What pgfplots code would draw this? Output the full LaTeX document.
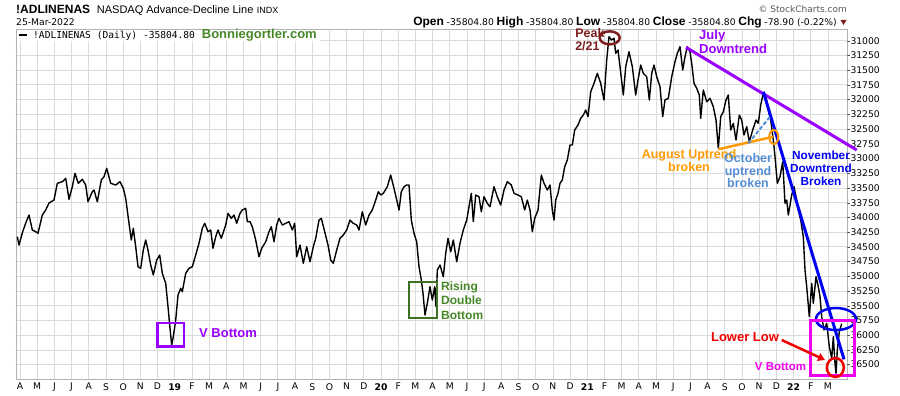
\documentclass[border=0pt]{standalone}
\usepackage{pgfplots}
\pgfplotsset{compat=1.18}
\usepackage{fontspec}
\setmainfont{Liberation Sans}
\newfontfamily\dv{DejaVu Sans}
\newfontfamily\dvm{DejaVu Sans Mono}
\usetikzlibrary{arrows.meta}
\definecolor{vio}{RGB}{153,0,255}
\definecolor{mrn}{RGB}{125,30,30}
\definecolor{grn}{RGB}{70,135,40}
\definecolor{orng}{RGB}{255,153,0}
\definecolor{cflower}{RGB}{85,142,213}
\definecolor{nblue}{RGB}{0,0,240}
\definecolor{mag}{RGB}{240,0,240}
\definecolor{rd}{RGB}{240,0,0}
\begin{document}
\begin{tikzpicture}
\useasboundingbox (0pt,0pt) rectangle (900pt,-396pt);
\begin{axis}[
  at={(16pt,-379pt)}, anchor=south west,
  scale only axis, width=831pt, height=350pt,
  xmin=2.767, xmax=51.109, ymin=-36744, ymax=-30801,
  clip=false,
  axis line style={draw=black!30},
  xtick={3,...,50},
  xticklabels={A,M,J,J,A,S,O,N,D,\textbf{19},F,M,A,M,J,J,A,S,O,N,D,\textbf{20},F,M,A,M,J,J,A,S,O,N,D,\textbf{21},F,M,A,M,J,J,A,S,O,N,D,\textbf{22},F,M},
  ytick={-36500,-36250,...,-31000},
  scaled y ticks=false,
  yticklabel pos=right,
  major tick length=0pt,
  grid=major,
  grid style={draw=black!14, line width=0.8pt},
  xticklabel style={font=\dv\fontsize{9.2}{9.2}\selectfont, anchor=north, inner sep=0pt, yshift=-4pt},
  yticklabel style={font=\dv\fontsize{9.2}{9.2}\selectfont, anchor=west, inner sep=0pt, xshift=0pt},
  /pgf/number format/.cd, fixed, 1000 sep={}, assume math mode=true,
]
\addplot[black, line width=1.4pt, line join=round] coordinates {
(2.843,-34328) (2.942,-34469) (3.134,-34265) (3.332,-34095) (3.524,-33960) (3.716,-34214) (3.913,-34243) (4.047,-34270) (4.297,-33960) (4.495,-33875) (4.687,-33756) (4.978,-33705) (5.170,-33421) (5.461,-33394) (5.659,-33336) (5.850,-33693) (6.043,-33479) (6.200,-33252) (6.391,-33421) (6.624,-33353) (6.822,-33450) (6.956,-33734) (7.206,-33564) (7.305,-33535) (7.497,-33734) (7.730,-33365) (7.887,-33309) (8.044,-33167) (8.276,-33421) (8.567,-33450) (8.817,-33394) (9.009,-33506) (9.149,-33676) (9.341,-34101) (9.475,-34384) (9.591,-34185) (9.731,-34498) (9.864,-34837) (10.021,-34865) (10.173,-34554) (10.312,-34384) (10.446,-34554) (10.603,-34809) (10.754,-34978) (10.952,-34724) (11.127,-34639) (11.278,-34950) (11.476,-35119) (11.610,-35517) (11.726,-35883) (11.825,-36167) (11.918,-36026) (12.058,-35743) (12.191,-35318) (12.348,-35204) (12.442,-35262) (12.639,-34950) (12.831,-34865) (13.023,-34837) (13.221,-34639) (13.413,-34440) (13.605,-34185) (13.745,-34101) (13.937,-34243) (14.094,-34214) (14.227,-34525) (14.385,-34328) (14.518,-34214) (14.710,-34355) (14.966,-34129)
(15.100,-33931) (15.292,-34016) (15.449,-33960) (15.606,-34101) (15.798,-33931) (15.932,-33875) (16.130,-33846) (16.223,-34073) (16.380,-34073) (16.514,-34158) (16.711,-34384) (16.903,-34668) (17.060,-34525) (17.293,-34413) (17.485,-34243) (17.619,-34158) (17.776,-34413) (17.933,-34129) (18.067,-34016) (18.259,-34129) (18.457,-34101) (18.649,-34073) (18.841,-34214) (18.980,-34101) (19.097,-34668) (19.289,-34469) (19.481,-34780) (19.678,-34498) (19.870,-34753) (20.062,-34498) (20.202,-34355) (20.394,-34045) (20.528,-34016) (20.725,-34243) (20.917,-34469) (21.075,-34724) (21.226,-34780) (21.423,-34554) (21.616,-34355) (21.807,-34299) (22.005,-34214) (22.197,-34045) (22.389,-34101) (22.587,-34129) (22.721,-34214) (22.913,-33904) (23.111,-34129) (23.303,-33960) (23.494,-33875) (23.692,-33705) (23.844,-33564) (23.983,-33620) (24.134,-33591) (24.367,-33479) (24.565,-33280) (24.757,-33506) (24.914,-33705) (25.048,-33875) (25.181,-33564) (25.339,-33479) (25.496,-33450) (25.630,-33450) (25.763,-34045) (25.920,-34270) (26.077,-34413) (26.211,-34837) (26.345,-35063) (26.444,-35289) (26.560,-35658) (26.694,-35459) (26.851,-35177) (26.985,-35403) (27.124,-35177)
(27.200,-35517) (27.276,-34894) (27.433,-34809) (27.625,-35007) (27.765,-34610) (27.898,-34355) (28.055,-34583) (28.207,-34384) (28.404,-34753) (28.596,-34440) (28.788,-34214) (28.986,-34045) (29.120,-33819) (29.254,-33591) (29.370,-34073) (29.510,-33620) (29.702,-33649) (29.835,-33904) (29.993,-33649) (30.184,-33761) (30.342,-33819) (30.574,-33479) (30.766,-33649) (30.964,-33790) (31.156,-33535) (31.348,-33394) (31.581,-33450) (31.738,-33591) (31.971,-33620) (32.162,-33649) (32.360,-33875) (32.511,-33705) (32.668,-33875) (32.802,-34243) (32.942,-34016) (33.134,-33875) (33.326,-33280) (33.483,-33421) (33.675,-33535) (33.832,-33450) (33.966,-33875) (34.065,-34045) (34.164,-33705) (34.297,-33591) (34.414,-33421) (34.547,-33365) (34.687,-33139) (34.838,-33026) (34.995,-32771) (35.129,-32771) (35.269,-32516) (35.461,-32431) (35.618,-32318) (35.769,-32262) (35.909,-32177) (36.043,-32290) (36.200,-31866) (36.392,-31723) (36.584,-31554) (36.781,-31723) (36.874,-31866) (36.973,-32007) (37.130,-31328) (37.264,-30932) (37.398,-30988) (37.555,-30959) (37.654,-31214) (37.788,-31158) (37.904,-31441) (38.096,-31922) (38.236,-31441) (38.428,-31187) (38.620,-31441) (38.817,-31922) (38.951,-31667) (39.108,-31413)
(39.260,-31554) (39.457,-31611) (39.609,-32007) (39.748,-31554) (39.882,-31413) (40.039,-31611) (40.231,-31781) (40.388,-32290) (40.522,-32007) (40.714,-31978) (40.912,-31611) (41.104,-31357) (41.237,-31214) (41.394,-31102) (41.552,-31498) (41.685,-31272) (41.819,-31102) (41.976,-31187) (42.075,-31384) (42.209,-31723) (42.366,-31808) (42.517,-31922) (42.598,-32318) (42.750,-31837) (42.947,-32036) (43.140,-31978) (43.332,-32121) (43.489,-32347) (43.623,-32827) (43.762,-32290) (43.913,-32206) (44.070,-32007) (44.204,-31922) (44.344,-32516) (44.495,-32403) (44.652,-32686) (44.844,-32262) (44.984,-32347) (45.117,-32601) (45.275,-32460) (45.426,-32715) (45.624,-32516) (45.816,-32347) (45.949,-32403) (46.089,-32092) (46.240,-31893) (46.397,-31951) (46.531,-32177) (46.671,-32347) (46.822,-32686) (46.921,-32970) (47.055,-33421) (47.212,-33309) (47.369,-33055) (47.503,-33761) (47.602,-33705) (47.695,-33960) (47.892,-33620) (48.026,-33479) (48.142,-33649) (48.276,-33875) (48.416,-34045) (48.567,-34328) (48.666,-34894) (48.765,-35177) (48.916,-35686) (49.056,-35119) (49.149,-35459) (49.306,-35007) (49.440,-35177) (49.539,-35347) (49.638,-35686) (49.771,-35912) (49.928,-35799) (50.080,-36196) (50.219,-36393) (50.312,-36026) (50.411,-36478) (50.469,-36648) (50.545,-36252) (50.661,-35941) (50.801,-35804.8)
};
% trend lines
\draw[vio, line width=3pt] (axis cs:41.743,-31112) -- (axis cs:51.674,-32856);
\draw[nblue, line width=3pt] (axis cs:46.240,-31866) -- (axis cs:50.935,-36410);
\draw[orng, line width=2.5pt] (axis cs:43.622,-32844) -- (axis cs:46.822,-32630);
\draw[cflower, line width=2pt, dash pattern=on 4pt off 2pt] (axis cs:45.368,-32742) -- (axis cs:46.630,-32290);
\draw[orng, line width=2pt] (axis cs:46.851,-32635) ellipse [x radius=4.5pt, y radius=7pt];
\draw[mrn, line width=2.5pt] (axis cs:37.305,-30951) ellipse [x radius=10pt, y radius=6.5pt];
\draw[nblue, line width=2.5pt] (axis cs:50.469,-35726) ellipse [x radius=20pt, y radius=11pt];
\draw[mag, line width=3pt] (axis cs:49.00,-35754) rectangle (axis cs:51.52,-36693);
\draw[rd, line width=2.5pt] (axis cs:50.429,-36549) ellipse [x radius=8.5pt, y radius=9.5pt];
\draw[vio, line width=2.5pt] (axis cs:10.99,-35790) rectangle (axis cs:12.54,-36196);
\draw[grn!85!black, line width=2.5pt] (axis cs:25.63,-35097) rectangle (axis cs:27.26,-35709);
\draw[rd, line width=2.5pt, -{Triangle[length=7pt,width=8pt]}] (axis cs:47.311,-36082) -- (axis cs:49.830,-36421);
% annotation texts
\node[anchor=west, text=vio, font=\bfseries\fontsize{13}{13}\selectfont, inner sep=0pt] at (axis cs:13.41,-35963) {V Bottom};
\node[anchor=north west, align=left, text=grn, font=\bfseries\fontsize{12}{14.5}\selectfont, inner sep=0pt] at (axis cs:27.49,-35082) {Rising\\Double\\Bottom};
\node[anchor=north west, align=left, text=mrn, font=\bfseries\fontsize{12.5}{13.5}\selectfont, inner sep=0pt] at (axis cs:35.29,-30784) {Peak\\2/21};
\node[anchor=north west, align=left, text=vio, font=\bfseries\fontsize{13}{14}\selectfont, inner sep=0pt] at (axis cs:42.50,-30818) {July\\Downtrend};
\node[align=center, text=orng, font=\bfseries\fontsize{12.5}{13.5}\selectfont, inner sep=0pt] at (axis cs:41.918,-33034) {August Uptrend\\broken};
\node[align=center, text=cflower, font=\bfseries\fontsize{12.5}{12.5}\selectfont, inner sep=0pt] at (axis cs:45.350,-33212) {October\\uptrend\\broken};
\node[align=center, text=nblue, font=\bfseries\fontsize{11.8}{13}\selectfont, inner sep=0pt] at (axis cs:49.597,-33170) {November\\Downtrend\\Broken};
\node[text=rd, font=\bfseries\fontsize{13}{13}\selectfont, inner sep=0pt] at (axis cs:45.176,-36031) {Lower Low};
\node[text=mag, font=\bfseries\fontsize{11.5}{11.5}\selectfont, inner sep=0pt] at (axis cs:47.241,-36540) {V Bottom};
\end{axis}
% header
\node[anchor=base west, inner sep=0pt, font=\bfseries\fontsize{12}{12}\selectfont] at (16pt,-13.3pt) {!ADLINENAS};
\node[anchor=base west, inner sep=0pt, font=\fontsize{11}{11}\selectfont] at (96.7pt,-13.3pt) {NASDAQ Advance-Decline Line};
\node[anchor=base west, inner sep=0pt, font=\fontsize{9}{9}\selectfont] at (256.7pt,-13.3pt) {INDX};
\node[anchor=base west, inner sep=0pt, font=\dv\fontsize{9.2}{9.2}\selectfont] at (16pt,-26pt) {25-Mar-2022};
\node[anchor=base east, inner sep=0pt, text=black!65, font=\dv\fontsize{9}{9}\selectfont] at (847pt,-13pt) {\textcopyright\ StockCharts.com};
\node[anchor=base east, inner sep=0pt] at (837pt,-26pt) {{\bfseries\fontsize{12}{12}\selectfont Open} {\dv\fontsize{9.2}{9.2}\selectfont -35804.80}  {\bfseries\fontsize{12}{12}\selectfont High} {\dv\fontsize{9.2}{9.2}\selectfont -35804.80}  {\bfseries\fontsize{12}{12}\selectfont Low} {\dv\fontsize{9.2}{9.2}\selectfont -35804.80}  {\bfseries\fontsize{12}{12}\selectfont Close} {\dv\fontsize{9.2}{9.2}\selectfont -35804.80}  {\bfseries\fontsize{12}{12}\selectfont Chg} {\dv\fontsize{9.2}{9.2}\selectfont -78.90 (-0.22\%)}};
\fill[mrn] (840.5pt,-20pt) -- (846.5pt,-20pt) -- (843.5pt,-25pt) -- cycle;
% legend row
\fill[white] (17pt,-30pt) rectangle (320pt,-41.5pt);
\draw[black, line width=1.5pt] (19pt,-35pt) -- (27pt,-35pt);
\node[anchor=base west, inner sep=0pt, font=\dvm\fontsize{9.6}{9.6}\selectfont] at (33pt,-38.4pt) {!ADLINENAS (Daily) -35804.80};
\node[anchor=base west, inner sep=0pt, text=grn, font=\bfseries\fontsize{13}{13}\selectfont] at (201.7pt,-38.8pt) {Bonniegortler.com};
\end{tikzpicture}
\end{document}
